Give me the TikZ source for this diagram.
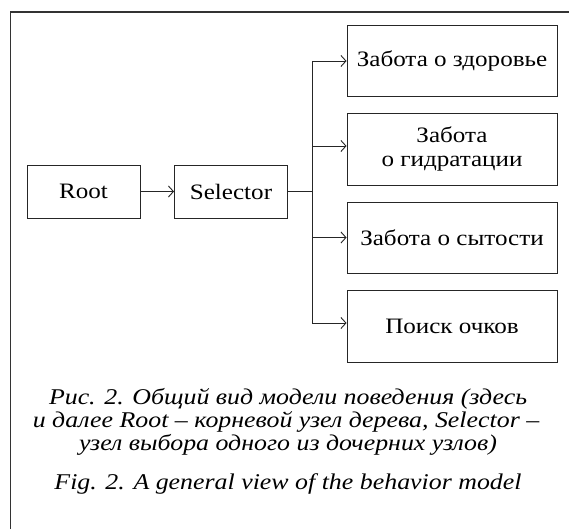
\documentclass[tikz,border=0pt]{standalone}
\usepackage{fontspec}
\setmainfont{Liberation Serif}
\newfontfamily\boxfont[FakeStretch=1.14]{Liberation Serif}
\newfontfamily\capfont[FakeStretch=1.15]{Liberation Serif}
\usetikzlibrary{arrows.meta,calc}
\begin{document}
\begin{tikzpicture}[x=1pt,y=-1pt,
  box/.style={draw=black!85,line width=0.9pt,minimum width=113pt,minimum height=53pt,inner sep=0pt,font=\boxfont\fontsize{22}{24}\selectfont,align=center},
  rbox/.style={box,minimum width=210pt,minimum height=72pt},
  conn/.style={draw=black!85,line width=0.9pt},
  arr/.style={conn,-{Straight Barb[length=5pt,width=11pt]}},
  captext/.style={font=\capfont\fontsize{22.5}{26}\selectfont\itshape,anchor=base,inner sep=0pt}]
\useasboundingbox (0,0) rectangle (569,529);
\draw[draw=black!80,line width=1.2pt] (10.5,529) -- (10.5,12) -- (569,12);
\node[box] (root) at (83.5,191.5) {Root};
\node[box] (sel) at (231,191.5) {Selector};
\node[rbox,minimum height=71pt] (b1) at (452,60.5) {Забота о здоровье};
\node[rbox] (b2) at (452,149) {Забота\\о гидратации};
\node[rbox,minimum height=71pt] (b3) at (452,237.5) {Забота о сытости};
\node[rbox] (b4) at (452,326.5) {Поиск очков};
\coordinate (j) at (312,191.5);
\draw[arr] (root) -- (sel);
\draw[conn] (sel) -- (j);
\draw[conn] ($(j |- b1.west)+(0,0.5)$) -- ($(j |- b4.west)+(0,-3.5)$);
\draw[arr] ($(j |- b1.west)+(0,0.5)$) -- ($(b1.west)+(0,0.5)$);
\draw[arr] ($(j |- b2.west)+(0,-3)$) -- ($(b2.west)+(0,-3)$);
\draw[arr] ($(j |- b3.west)+(0,0)$) -- ($(b3.west)+(0,0)$);
\draw[arr] ($(j |- b4.west)+(0,-3.5)$) -- ($(b4.west)+(0,-3.5)$);
\node[captext] (c1) at (288,404) {Рис. 2. Общий вид модели поведения (здесь};
\node[captext] (c2) at (286,427) {и далее Root – корневой узел дерева, Selector –};
\node[captext] (c3) at (288,450) {узел выбора одного из дочерних узлов)};
\node[captext] (c4) at (288,489) {Fig. 2. A general view of the behavior model};
\end{tikzpicture}
\end{document}
